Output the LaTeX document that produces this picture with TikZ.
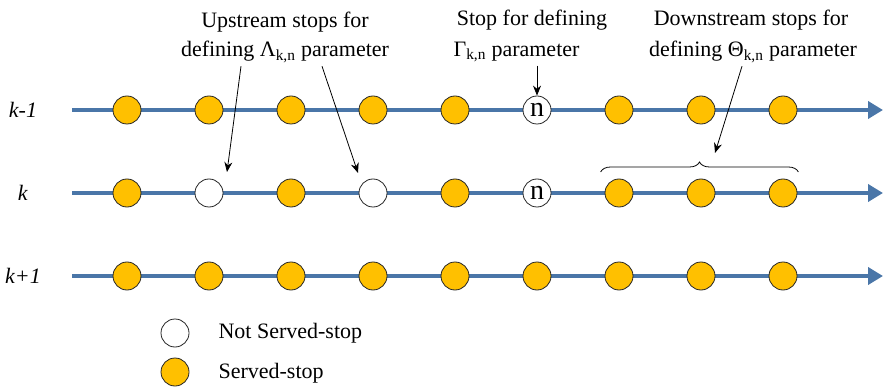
\documentclass[tikz,border=0pt]{standalone}
\usepackage{fontspec}
\setmainfont{Liberation Serif}
\newfontfamily\diagfont{Liberation Serif}
\usepackage{tikz}
\usetikzlibrary{arrows.meta,decorations.pathreplacing}

\definecolor{routeblue}{HTML}{4A76A8}
\definecolor{stoporange}{HTML}{FFC000}

\tikzset{
  served/.style={circle, draw=black!85, fill=stoporange, line width=0.8pt,
                 minimum size=28pt, inner sep=0pt},
  notserved/.style={served, fill=white},
  nstop/.style={notserved, font=\diagfont\fontsize{28}{28}\selectfont},
  route/.style={draw=routeblue, line width=4pt,
                -{Triangle[length=15pt,width=17pt]}},
  pointer/.style={line width=0.8pt, -{Stealth[length=10pt,width=8pt]}},
  brace/.style={decorate, decoration={brace, amplitude=10pt}, line width=0.8pt},
}

\begin{document}
\begin{tikzpicture}[x=1pt,y=-1pt, font=\diagfont\fontsize{22}{25}\selectfont]
  \useasboundingbox (0,0) rectangle (885,387);

  % routes
  \foreach \r/\y/\lab in {a/110/k-1, b/193/k, c/276/k+1} {
    \node[draw=none] (lab\r) at (23,\y) {\textit{\lab}};
    \coordinate (\r0) at (72,\y);
    \coordinate (\r end) at (883,\y);
    \draw[route] (\r0) -- (\r end);
  }

  % stops, row k-1
  \foreach \i in {1,...,5,7,8,9}
    \node[served] (a\i) at ({127+82*(\i-1)},110) {};
  \node[nstop] (a6) at (537,110) {n};

  % stops, row k
  \foreach \i in {1,7,8,9}
    \node[served] (b\i) at ({127+82*(\i-1)},193) {};
  \node[notserved] (b2) at (209,193) {};
  \node[served] (b3) at (291,193) {};
  \node[notserved] (b4) at (373,193) {};
  \node[nstop] (b6) at (537,193) {n};
  \node[served] (b5) at (455,193) {};

  % stops, row k+1
  \foreach \i in {1,...,9}
    \node[served] (c\i) at ({127+82*(\i-1)},276) {};

  % upstream
  \node[draw=none] (up1) at (285,22) {Upstream stops for};
  \node[draw=none] (up2) at (285,52) {defining Λ\textsubscript{k,n} parameter};
  \coordinate (uptipa) at ([shift={(18,-21)}]b2.center);
  \coordinate (uptipb) at ([shift={(-15,-20)}]b4.center);
  \draw[pointer] ([xshift=-44pt]up2.south) -- (uptipa);
  \draw[pointer] ([xshift=37pt]up2.south) -- (uptipb);

  % stop n
  \node[draw=none] (mid1) at (532,20) {Stop for defining};
  \node[draw=none, anchor=west] (mid2) at (450,52) {Γ\textsubscript{k,n} parameter};
  \draw[pointer] (mid2.south -| a6) -- (a6.north);

  % downstream
  \node[draw=none] (down1) at (751,20) {Downstream stops for};
  \node[draw=none] (down2) at (753,52) {defining Θ\textsubscript{k,n} parameter};
  \draw[brace] ([shift={(-4,-21)}]b7.west) -- ([shift={(1,-21)}]b9.east);
  \coordinate (downtip) at (715,153);
  \draw[pointer] ([xshift=-11pt]down2.south) -- (downtip);

  % legend
  \node[notserved] (keyno) at (175,333) {};
  \node[draw=none, anchor=west] (keynotext) at (215,333) {Not Served-stop};
  \node[served] (keyyes) at (175,372) {};
  \node[draw=none, anchor=west] (keyyestext) at (215,373) {Served-stop};
\end{tikzpicture}
\end{document}
